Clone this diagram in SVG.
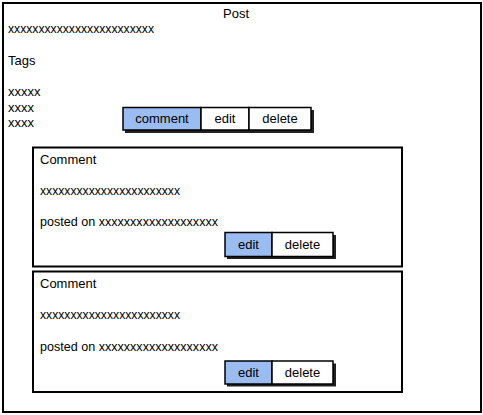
<svg xmlns="http://www.w3.org/2000/svg" width="483" height="415" viewBox="0 0 483 415">
<style>
.box{fill:#fff;stroke:#000;stroke-width:2}
.shadow{fill:#222;stroke:none}
.btn{fill:#fff;stroke:#000;stroke-width:1.5}
.sel{fill:#9bbcf0;stroke:#000;stroke-width:1.5}
text{font-family:"Liberation Sans",Arial,sans-serif;font-size:13px;fill:#000}
.c{text-anchor:middle}
</style>
<rect width="483" height="415" fill="#fff"/>
<g id="post">
<rect class="box" x="3" y="3" width="478" height="409"/>
<text class="c" x="236" y="18">Post</text>
<text x="8" y="33" textLength="146" lengthAdjust="spacingAndGlyphs">xxxxxxxxxxxxxxxxxxxxxxxx</text>
<text x="8" y="65">Tags</text>
<text x="8" y="96">xxxxx</text>
<text x="8" y="112">xxxx</text>
<text x="8" y="127">xxxx</text>
</g>
<g id="post-buttons">
<rect class="shadow" x="125" y="110" width="189" height="23"/>
<rect class="sel" x="123" y="107.5" width="78" height="22.5"/>
<rect class="btn" x="201" y="107.5" width="48" height="22.5"/>
<rect class="btn" x="249" y="107.5" width="62" height="22.5"/>
<text class="c" x="162" y="123">comment</text>
<text class="c" x="225" y="123">edit</text>
<text class="c" x="280" y="123">delete</text>
</g>
<g id="comment1">
<rect class="box" x="33" y="147.5" width="369" height="119"/>
<text x="40" y="164">Comment</text>
<text x="40" y="195" textLength="140" lengthAdjust="spacingAndGlyphs">xxxxxxxxxxxxxxxxxxxxxxx</text>
<text x="40" y="226" textLength="178" lengthAdjust="spacingAndGlyphs">posted on xxxxxxxxxxxxxxxxxxx</text>
<rect class="shadow" x="227" y="235" width="109" height="24"/>
<rect class="sel" x="225" y="232.5" width="47" height="24"/>
<rect class="btn" x="272" y="232.5" width="61" height="24"/>
<text class="c" x="248.5" y="249">edit</text>
<text class="c" x="302.5" y="249">delete</text>
</g>
<g id="comment2">
<rect class="box" x="33" y="271.5" width="369" height="120.5"/>
<text x="40" y="288">Comment</text>
<text x="40" y="319" textLength="140" lengthAdjust="spacingAndGlyphs">xxxxxxxxxxxxxxxxxxxxxxx</text>
<text x="40" y="351" textLength="178" lengthAdjust="spacingAndGlyphs">posted on xxxxxxxxxxxxxxxxxxx</text>
<rect class="shadow" x="227" y="363.5" width="109" height="23"/>
<rect class="sel" x="225" y="361" width="47" height="23"/>
<rect class="btn" x="272" y="361" width="61" height="23"/>
<text class="c" x="248.5" y="377">edit</text>
<text class="c" x="302.5" y="377">delete</text>
</g>
<g id="connectors"></g>
</svg>
